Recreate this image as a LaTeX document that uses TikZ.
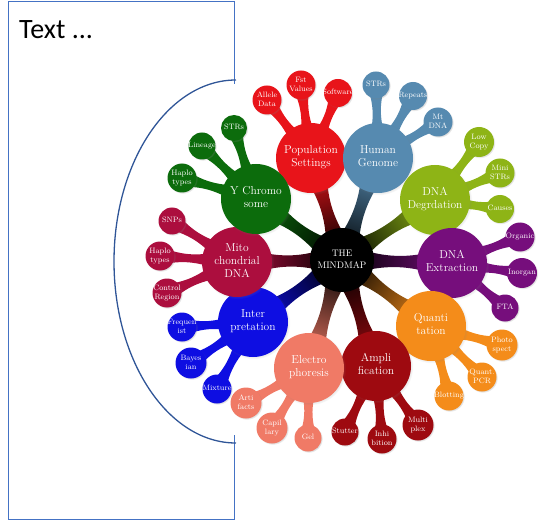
\documentclass[tikz,border=0pt]{standalone}
\usepackage{fontspec}
\newfontfamily\carlito{Carlito}
\usetikzlibrary{calc,shadows}
\pgfdeclarelayer{bg}
\pgfsetlayers{bg,main}
\definecolor{cPS}{RGB}{232,20,26}
\definecolor{cHG}{RGB}{86,138,176}
\definecolor{cDD}{RGB}{142,180,22}
\definecolor{cDE}{RGB}{118,14,124}
\definecolor{cQT}{RGB}{244,140,26}
\definecolor{cAM}{RGB}{158,10,16}
\definecolor{cEP}{RGB}{240,122,102}
\definecolor{cIN}{RGB}{14,14,226}
\definecolor{cMT}{RGB}{172,14,62}
\definecolor{cYC}{RGB}{12,108,12}
\definecolor{framec}{RGB}{68,114,196}
\definecolor{arcc}{RGB}{47,85,151}
\newcommand\ctext[1]{\makebox[0pt]{\raisebox{-0.25em}[0pt][0pt]{\begin{tabular}{@{}c@{}}#1\end{tabular}}}}
\newcommand\mainlink[4]{\shade[top color=#3, bottom color=black, shading angle=#4]
 ($(#1)!18pt!90:(#2)$) .. controls ($($(#1)!0.35!(#2)$)!1.5pt!90:(#2)$) and ($($(#1)!0.65!(#2)$)!1.5pt!90:(#2)$) .. ($(#2)!18pt!-90:(#1)$)
 -- ($(#2)!18pt!90:(#1)$) .. controls ($($(#1)!0.65!(#2)$)!1.5pt!-90:(#2)$) and ($($(#1)!0.35!(#2)$)!1.5pt!-90:(#2)$) .. ($(#1)!18pt!-90:(#2)$) -- cycle;}
\newcommand\sublink[3]{\fill[#3]
 ($(#1)!14pt!90:(#2)$) .. controls ($($(#1)!0.5!(#2)$)!1.8pt!90:(#2)$) and ($($(#1)!0.68!(#2)$)!1.8pt!90:(#2)$) .. ($(#2)!9pt!-90:(#1)$)
 -- ($(#2)!9pt!90:(#1)$) .. controls ($($(#1)!0.68!(#2)$)!1.8pt!-90:(#2)$) and ($($(#1)!0.5!(#2)$)!1.8pt!-90:(#2)$) .. ($(#1)!14pt!-90:(#2)$) -- cycle;}
\tikzset{
 ndshadow/.style={circular drop shadow={shadow xshift=0.8pt, shadow yshift=-0.8pt, shadow scale=1.04, opacity=0.3}},
 mainn/.style={circle, inner sep=0pt, minimum size=70pt, text=white, font=\fontsize{11.5}{13}\selectfont, ndshadow},
 subn/.style={circle, inner sep=0pt, minimum size=#1, text=white, font=\fontsize{7.8}{9}\selectfont, ndshadow},
 subn/.default=28pt,
 centern/.style={circle, inner sep=0pt, minimum size=64pt, fill=black, text=white, font=\fontsize{9.5}{11.5}\selectfont},
}
\begin{document}
\begin{tikzpicture}[x=1pt,y=-1pt]
\useasboundingbox (0,0) rectangle (540,521);
% frame and bracket
\draw[framec, line width=0.9pt] (234,84) -- (234,1) -- (8,1) -- (8,519) -- (234,519) -- (234,435);
\draw[arcc, line width=1.3pt] (236,80) .. controls (168.6,80) and (114,161.3) .. (114,261.5)
  .. controls (114,361.7) and (168.6,443) .. (236,443);
\node[font=\carlito\fontsize{28}{30}\selectfont, anchor=base west, inner sep=0pt] (title) at (19,39) {Text ...};
% center
\node[centern] (c) at (342,260) {\ctext{THE\\MINDMAP}};
% main nodes
\node[mainn, fill=cPS] (ps) at (311,158) {\ctext{Population\\Settings}};
\node[mainn, fill=cHG] (hg) at (378,158) {\ctext{Human\\Genome}};
\node[mainn, fill=cDD] (dd) at (435,200) {\ctext{DNA\\Degrdation}};
\node[mainn, fill=cDE] (de) at (452,263) {\ctext{DNA\\Extraction}};
\node[mainn, fill=cQT] (qt) at (431,326) {\ctext{Quanti\\tation}};
\node[mainn, fill=cAM] (am) at (376,366) {\ctext{Ampli\\fication}};
\node[mainn, fill=cEP] (ep) at (309,368) {\ctext{Electro\\phoresis}};
\node[mainn, fill=cIN] (in) at (253,322) {\ctext{Inter\\pretation}};
\node[mainn, fill=cMT] (mt) at (237,262) {\ctext{Mito\\chondrial\\DNA}};
\node[mainn, fill=cYC] (yc) at (256,199) {\ctext{Y Chromo\\some}};
% sub nodes
\node[subn=29pt, fill=cPS] (ps1) at (267,100) {\ctext{Allele\\Data}};
\node[subn=29pt, fill=cPS] (ps2) at (301,85) {\ctext{Fst\\Values}};
\node[subn=28pt, fill=cPS] (ps3) at (338,93) {\ctext{Software}};
\node[subn=27pt, fill=cHG] (hg1) at (376,85) {\ctext{STRs}};
\node[subn=28pt, fill=cHG] (hg2) at (413,96) {\ctext{Repeats}};
\node[subn=29pt, fill=cHG] (hg3) at (438,122) {\ctext{Mt\\DNA}};
\node[subn=30pt, fill=cDD] (dd1) at (479,142) {\ctext{Low\\Copy}};
\node[subn=29pt, fill=cDD] (dd2) at (500,173) {\ctext{Mini\\STRs}};
\node[subn=28pt, fill=cDD] (dd3) at (500,209) {\ctext{Causes}};
\node[subn=29pt, fill=cDE] (de1) at (520,237) {\ctext{Organic}};
\node[subn=30pt, fill=cDE] (de2) at (522,273) {\ctext{Inorgan}};
\node[subn=27pt, fill=cDE] (de3) at (505,308) {\ctext{FTA}};
\node[subn=31pt, fill=cQT] (qt1) at (502,345) {\ctext{Photo\\spect}};
\node[subn=29pt, fill=cQT] (qt2) at (482,377) {\ctext{Quant.\\PCR}};
\node[subn=29pt, fill=cQT] (qt3) at (449,396) {\ctext{Blotting}};
\node[subn=31pt, fill=cAM] (am1) at (418,425) {\ctext{Multi\\plex}};
\node[subn=29pt, fill=cAM] (am2) at (382,439) {\ctext{Inhi\\bition}};
\node[subn=27pt, fill=cAM] (am3) at (345,432) {\ctext{Stutter}};
\node[subn=27pt, fill=cEP] (ep1) at (308,438) {\ctext{Gel}};
\node[subn=31pt, fill=cEP] (ep2) at (272,428) {\ctext{Capil\\lary}};
\node[subn=31pt, fill=cEP] (ep3) at (246,403) {\ctext{Arti\\facts}};
\node[subn=29pt, fill=cIN] (in1) at (217,389) {\ctext{Mixture}};
\node[subn=31pt, fill=cIN] (in2) at (191,363) {\ctext{Bayes\\ian}};
\node[subn=29pt, fill=cIN] (in3) at (182,327) {\ctext{Frequen\\ist}};
\node[subn=29pt, fill=cMT] (mt1) at (167,293) {\ctext{Control\\Region}};
\node[subn=29pt, fill=cMT] (mt2) at (160,256) {\ctext{Haplo\\types}};
\node[subn=27pt, fill=cMT] (mt3) at (172,221) {\ctext{SNPs}};
\node[subn=29pt, fill=cYC] (yc1) at (182,178) {\ctext{Haplo\\types}};
\node[subn=27pt, fill=cYC] (yc2) at (202,146) {\ctext{Lineage}};
\node[subn=26pt, fill=cYC] (yc3) at (234,128) {\ctext{STRs}};
\begin{pgfonlayer}{bg}
\mainlink{c}{ps}{cPS}{17}
\mainlink{c}{hg}{cHG}{-19}
\mainlink{c}{dd}{cDD}{-57}
\mainlink{c}{de}{cDE}{-92}
\mainlink{c}{qt}{cQT}{-127}
\mainlink{c}{am}{cAM}{-162}
\mainlink{c}{ep}{cEP}{163}
\mainlink{c}{in}{cIN}{125}
\mainlink{c}{mt}{cMT}{91}
\mainlink{c}{yc}{cYC}{55}
\sublink{ps}{ps1}{cPS}\sublink{ps}{ps2}{cPS}\sublink{ps}{ps3}{cPS}
\sublink{hg}{hg1}{cHG}\sublink{hg}{hg2}{cHG}\sublink{hg}{hg3}{cHG}
\sublink{dd}{dd1}{cDD}\sublink{dd}{dd2}{cDD}\sublink{dd}{dd3}{cDD}
\sublink{de}{de1}{cDE}\sublink{de}{de2}{cDE}\sublink{de}{de3}{cDE}
\sublink{qt}{qt1}{cQT}\sublink{qt}{qt2}{cQT}\sublink{qt}{qt3}{cQT}
\sublink{am}{am1}{cAM}\sublink{am}{am2}{cAM}\sublink{am}{am3}{cAM}
\sublink{ep}{ep1}{cEP}\sublink{ep}{ep2}{cEP}\sublink{ep}{ep3}{cEP}
\sublink{in}{in1}{cIN}\sublink{in}{in2}{cIN}\sublink{in}{in3}{cIN}
\sublink{mt}{mt1}{cMT}\sublink{mt}{mt2}{cMT}\sublink{mt}{mt3}{cMT}
\sublink{yc}{yc1}{cYC}\sublink{yc}{yc2}{cYC}\sublink{yc}{yc3}{cYC}
\end{pgfonlayer}
\end{tikzpicture}
\end{document}
